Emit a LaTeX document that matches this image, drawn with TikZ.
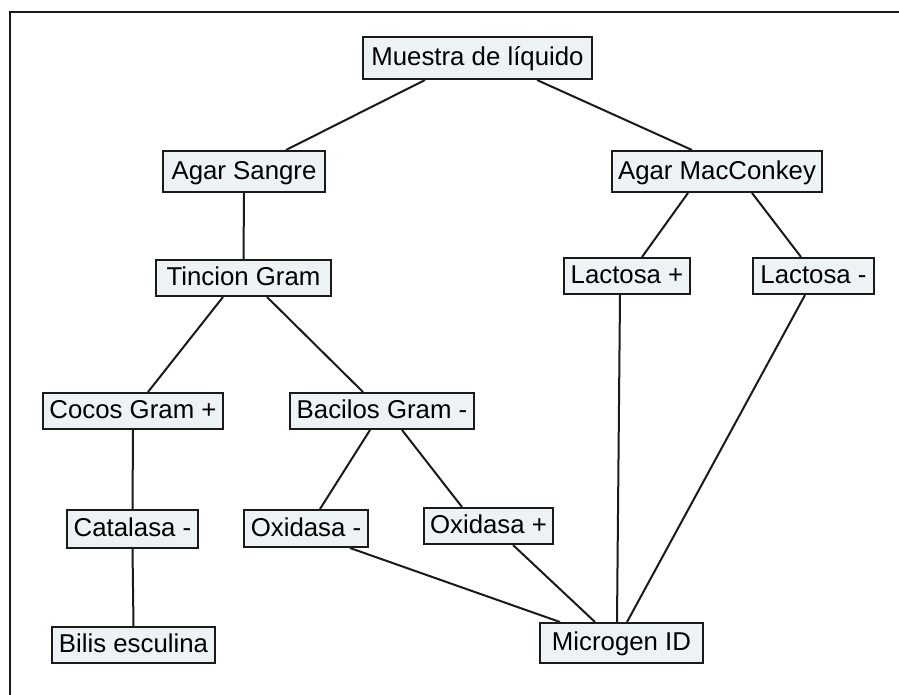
\documentclass[tikz,border=0pt]{standalone}
\usepackage{fontspec}
\setmainfont{Liberation Sans}
\usetikzlibrary{calc}
\definecolor{boxfill}{HTML}{EDF2F4}
\definecolor{linecol}{HTML}{1A1A1A}
\begin{document}
\begin{tikzpicture}[x=1pt,y=-1pt,
  box/.style={draw=linecol,line width=2pt,fill=boxfill,inner sep=0pt,
    minimum height=#1,font=\fontsize{25.8}{30}\selectfont,text depth=3pt,text height=18.5pt},
  box/.default=37pt,
  conn/.style={draw=linecol,line width=2pt}]
\useasboundingbox (0,0) rectangle (899,695);
\fill[white] (0,0) rectangle (899,695);
\draw[line width=2pt,linecol] (10,695) -- (10,12) -- (899,12);

\node[box=42pt,minimum width=229pt] (m) at (477.5,58) {Muestra de líquido};
\node[box=41pt,minimum width=162pt] (as) at (244,171.5) {Agar Sangre};
\node[box=41pt,minimum width=210pt] (am) at (717,171.5) {Agar MacConkey};
\node[box=36pt,minimum width=175pt] (tg) at (243.5,278) {Tincion Gram};
\node[box=36pt,minimum width=126pt] (lp) at (627,276) {Lactosa +};
\node[box=36pt,minimum width=121pt] (ln) at (813.5,276) {Lactosa -};
\node[box=36pt,minimum width=180pt] (cg) at (133,411) {Cocos Gram +};
\node[box=36pt,minimum width=184pt] (bg) at (382,411) {Bacilos Gram -};
\node[box=38pt,minimum width=131pt] (ca) at (132.5,529) {Catalasa -};
\node[box=37pt,minimum width=124pt] (on) at (306,528.5) {Oxidasa -};
\node[box=36pt,minimum width=129pt] (op) at (488.5,526) {Oxidasa +};
\node[box=36pt,minimum width=163pt] (be) at (133.5,645) {Bilis esculina};
\node[box=40pt,minimum width=163pt] (mi) at (621.5,643) {Microgen ID};

\path[conn] ($(m.south)+(-52.5,0)$) -- ($(as.north)+(42,0)$);
\path[conn] ($(m.south)+(59.5,0)$) -- ($(am.north)+(-25,0)$);
\path[conn] (as.south) -- (tg.north);
\path[conn] ($(am.south)+(-29,0)$) -- ($(lp.north)+(15,0)$);
\path[conn] ($(am.south)+(35,0)$) -- ($(ln.north)+(-12.5,0)$);
\path[conn] ($(tg.south)+(-20.5,0)$) -- ($(cg.north)+(15,0)$);
\path[conn] ($(tg.south)+(23.5,0)$) -- ($(bg.north)+(-19,0)$);
\path[conn] (cg.south) -- (ca.north);
\path[conn] (ca.south) -- (be.north);
\path[conn] ($(bg.south)+(-12,0)$) -- ($(on.north)+(14,0)$);
\path[conn] ($(bg.south)+(20,0)$) -- ($(op.north)+(-26.5,0)$);
\path[conn] ($(on.south)+(44,0)$) -- ($(mi.north)+(-61.5,0)$);
\path[conn] ($(op.south)+(24.5,0)$) -- ($(mi.north)+(-26.5,0)$);
\path[conn] ($(lp.south)+(-7,0)$) -- ($(mi.north)+(-4.5,0)$);
\path[conn] ($(ln.south)+(-8.5,0)$) -- ($(mi.north)+(5.5,0)$);
\end{tikzpicture}
\end{document}
